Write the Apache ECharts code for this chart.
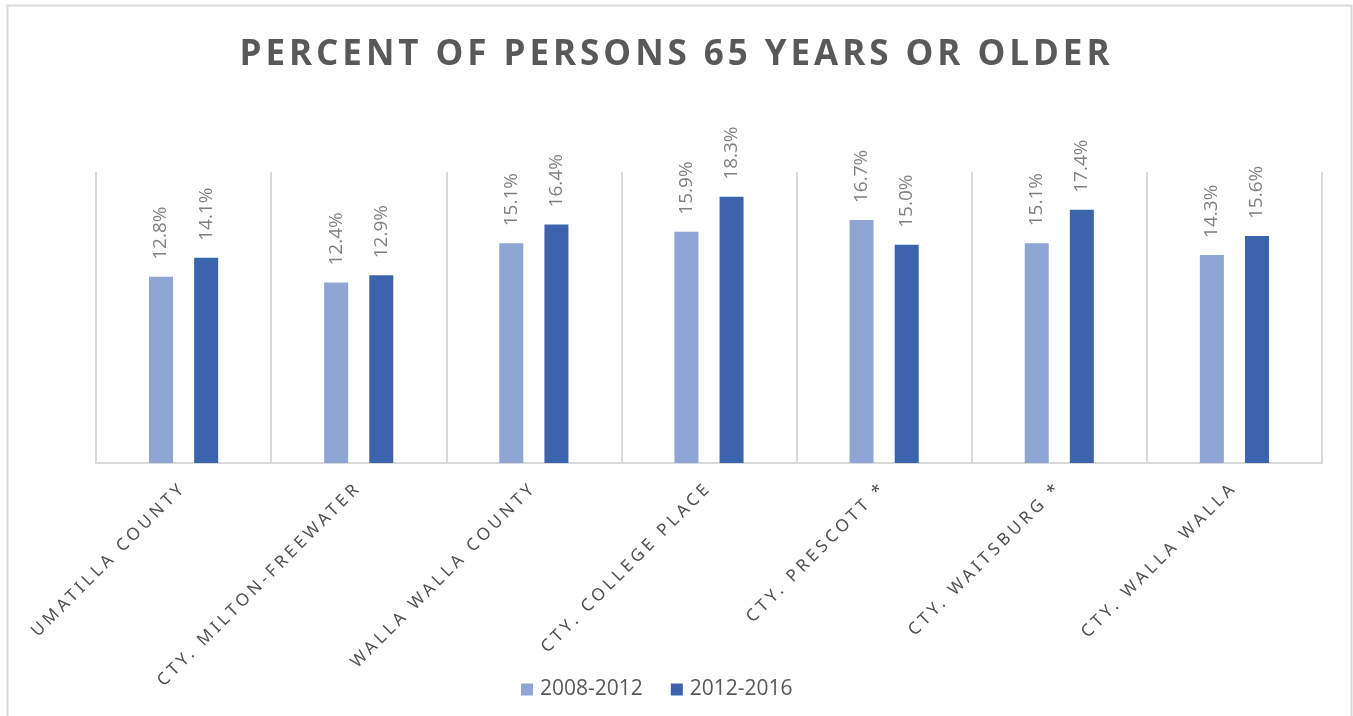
<!DOCTYPE html>
<html><head><meta charset="utf-8">
<script src="https://cdn.jsdelivr.net/npm/echarts@6/dist/echarts.min.js"></script>
<style>html,body{margin:0;padding:0;background:#fff}#c{width:1353px;height:716px}</style>
</head><body><div id="c"></div>
<script>
const categories = ["UMATILLA COUNTY","CTY. MILTON-FREEWATER","WALLA WALLA COUNTY","CTY. COLLEGE PLACE","CTY. PRESCOTT *","CTY. WAITSBURG *","CTY. WALLA WALLA"];
const seriesNames = ["2008-2012","2012-2016"];
const values2008 = [12.8,12.4,15.1,15.9,16.7,15.1,14.3];
const values2012 = [14.1,12.9,16.4,18.3,15.0,17.4,15.6];
const titleText = "PERCENT OF PERSONS 65 YEARS OR OLDER";

// letter spacing for the title and category labels (Excel-style spaced caps)
(function(){
  const proto = CanvasRenderingContext2D.prototype;
  const orig = proto.fillText;
  proto.fillText = function(t, x, y, m){
    const f = this.font || '';
    let ls = '0px';
    if (f.indexOf('Noto Sans') >= 0) ls = '3.8px';
    else if (f.indexOf('35px') >= 0) ls = '3.95px';
    try { this.letterSpacing = ls; } catch(e) {}
    return m === undefined ? orig.call(this, t, x, y) : orig.call(this, t, x, y, m);
  };
})();

const chart = echarts.init(document.getElementById('c'));
const labelCfg = {show:true, position:'top', rotate:90, align:'left', verticalAlign:'middle', distance:17,
  color:'#808080', fontSize:19, fontFamily:'Open Sans', formatter: p => p.value.toFixed(1)+'%'};
chart.setOption({
  animation:false,
  backgroundColor:'#fff',
  graphic:[{type:'rect', shape:{x:7.5,y:5.5,width:1344,height:730}, style:{fill:'none', stroke:'#d9d9d9', lineWidth:2}, silent:true}],
  title:{text:titleText, left:'center', top:33, textStyle:{fontFamily:'Open Sans', fontWeight:'bold', fontSize:35, color:'#595959'}},
  legend:{bottom:11, left:516, itemWidth:12, itemHeight:12, itemGap:28, icon:'rect',
    textStyle:{fontFamily:'Open Sans', fontSize:21, color:'#595959', padding:[0,0,0,2]}},
  grid:{left:96, right:31, top:172, bottom:253},
  xAxis:{type:'category', data:categories,
    axisLine:{lineStyle:{color:'#d9d9d9', width:2}}, axisTick:{show:false},
    splitLine:{show:true, lineStyle:{color:'#d9d9d9', width:2}},
    axisLabel:{rotate:45, interval:0, margin:22, color:'#505050', fontSize:17, fontFamily:'Noto Sans'}},
  yAxis:{type:'value', min:0, max:20, show:false, splitLine:{show:false}},
  series:[
    {name:seriesNames[0], type:'bar', data:values2008, barWidth:24, barGap:'88%', itemStyle:{color:'#8FA5D4'}, label:labelCfg},
    {name:seriesNames[1], type:'bar', data:values2012, barWidth:24, itemStyle:{color:'#3B64AD'}, label:labelCfg}
  ]
});
</script></body></html>
